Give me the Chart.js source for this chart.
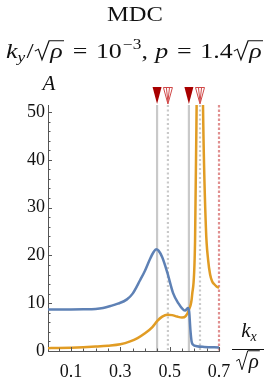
<!DOCTYPE html>
<html>
<head>
<meta charset="utf-8">
<script src="https://cdn.jsdelivr.net/npm/chart.js@4.4.1/dist/chart.umd.min.js"></script>
<style>
  html, body { margin: 0; padding: 0; background: #fff; }
  canvas { display: block; }
</style>
</head>
<body>
<canvas id="mdc" width="271" height="382"></canvas>
<script>
// MDC data
const blueKx = [0.005, 0.1, 0.15, 0.2, 0.23, 0.26, 0.29, 0.327, 0.35, 0.38, 0.4, 0.42, 0.435, 0.445, 0.455, 0.47, 0.49, 0.514, 0.535, 0.554, 0.563, 0.574, 0.579, 0.584, 0.589, 0.595, 0.61, 0.64, 0.7];
const blueA  = [8.7, 8.7, 8.72, 8.8, 9.0, 9.4, 9.9, 10.8, 12.0, 14.8, 16.8, 19.2, 20.7, 21.3, 21.0, 19.6, 16.5, 12.1, 10.0, 8.7, 8.45, 9.0, 8.3, 4.5, 2.0, 1.3, 1.0, 0.85, 0.75];

const orangeKx = [0.005, 0.05, 0.1, 0.15, 0.2, 0.25, 0.3, 0.34, 0.37, 0.4, 0.43, 0.45, 0.47, 0.49, 0.51, 0.53, 0.55, 0.565, 0.578, 0.591, 0.603, 0.61, 0.62, 0.63, 0.635, 0.647, 0.656, 0.664, 0.672, 0.68, 0.69, 0.7];
const orangeA  = [0.6, 0.62, 0.68, 0.78, 0.92, 1.1, 1.4, 2.0, 2.7, 3.7, 5.0, 6.3, 7.2, 7.6, 7.5, 7.2, 7.0, 7.3, 8.6, 11.7, 23, 55, 110, 80, 52, 25.7, 19, 16, 14.6, 14, 13.5, 13.2];

const xTicks = [0.1, 0.3, 0.5, 0.7];
const xMinor = [0.05, 0.15, 0.2, 0.25, 0.35, 0.4, 0.45, 0.55, 0.6, 0.65];
const yTicks = [0, 10, 20, 30, 40, 50];
const yMinor = [2, 4, 6, 8, 12, 14, 16, 18, 22, 24, 26, 28, 32, 34, 36, 38, 42, 44, 46, 48];

// vertical markers
const solidMarks = [0.449, 0.578];
const dottedMarks = [0.493, 0.623];
const redMarks = [0.7];

const SERIF = '"Liberation Serif", "DejaVu Serif", serif';
const AXIS = '#555';

function pts(xs, ys) {
  return xs.map((x, i) => ({ x: x, y: ys[i] }));
}

// little math-text helper: runs of text, sub/superscripts and square roots
function runSeq(ctx, parts, x, y, draw) {
  let cx = x;
  for (const p of parts) {
    if (p.gap) { cx += p.gap; continue; }
    if (p.sqrt) {
      const inner = runSeq(ctx, p.sqrt, 0, 0, false);
      const s = p.size;
      const rw = s * 0.55;
      if (draw) {
        ctx.save();
        ctx.lineWidth = 1;
        ctx.strokeStyle = '#111';
        ctx.beginPath();
        ctx.moveTo(cx, y - s * 0.33);
        ctx.lineTo(cx + rw * 0.25, y - s * 0.42);
        ctx.lineTo(cx + rw * 0.5, y + s * 0.08);
        ctx.lineTo(cx + rw, y - s * 0.82);
        ctx.lineTo(cx + rw + inner + 2, y - s * 0.82);
        ctx.stroke();
        ctx.restore();
      }
      runSeq(ctx, p.sqrt, cx + rw + 1, y, draw);
      cx += rw + inner + 2;
    } else {
      ctx.font = (p.it ? 'italic ' : '') + p.size + 'px ' + SERIF;
      if (draw) ctx.fillText(p.t, cx, y + (p.dy || 0));
      cx += ctx.measureText(p.t).width + (p.sp || 0);
    }
  }
  return cx - x;
}

function drawCentered(ctx, parts, cx, y) {
  const w = runSeq(ctx, parts, 0, 0, false);
  runSeq(ctx, parts, cx - w / 2, y, true);
  return w;
}

// stretch a run so it spans [left, right]
function drawSpan(ctx, parts, left, right, y) {
  const w = runSeq(ctx, parts, 0, 0, false);
  ctx.save();
  ctx.translate(left, 0);
  ctx.scale((right - left) / w, 1);
  runSeq(ctx, parts, 0, y, true);
  ctx.restore();
}

const decorPlugin = {
  id: 'decor',
  beforeDatasetsDraw(chart) {
    const { ctx, chartArea, scales } = chart;
    const xs = scales.x;
    ctx.save();
    ctx.lineWidth = 2.2;
    // solid gray
    ctx.strokeStyle = '#c9c9c9';
    solidMarks.forEach(v => {
      const px = xs.getPixelForValue(v);
      ctx.beginPath(); ctx.moveTo(px, chartArea.top); ctx.lineTo(px, chartArea.bottom); ctx.stroke();
    });
    // dotted gray
    ctx.setLineDash([2, 2.5]);
    dottedMarks.forEach(v => {
      const px = xs.getPixelForValue(v);
      ctx.beginPath(); ctx.moveTo(px, chartArea.top); ctx.lineTo(px, chartArea.bottom); ctx.stroke();
    });
    // red dashed
    ctx.strokeStyle = '#e09090';
    ctx.setLineDash([2.5, 2]);
    redMarks.forEach(v => {
      const px = xs.getPixelForValue(v);
      ctx.beginPath(); ctx.moveTo(px, chartArea.top); ctx.lineTo(px, chartArea.bottom); ctx.stroke();
    });
    ctx.restore();
  },
  afterDraw(chart) {
    const { ctx, chartArea, scales } = chart;
    const xs = scales.x, ys = scales.y;
    ctx.save();

    // inward minor / major ticks
    ctx.strokeStyle = AXIS;
    ctx.lineWidth = 1;
    ctx.beginPath();
    yTicks.forEach(v => { const py = Math.round(ys.getPixelForValue(v)) + 0.5; ctx.moveTo(chartArea.left, py); ctx.lineTo(chartArea.left + 4, py); });
    yMinor.forEach(v => { const py = Math.round(ys.getPixelForValue(v)) + 0.5; ctx.moveTo(chartArea.left, py); ctx.lineTo(chartArea.left + 2.5, py); });
    xTicks.forEach(v => { const px = Math.round(xs.getPixelForValue(v)) + 0.5; ctx.moveTo(px, chartArea.bottom); ctx.lineTo(px, chartArea.bottom - 4); });
    xMinor.forEach(v => { const px = Math.round(xs.getPixelForValue(v)) + 0.5; ctx.moveTo(px, chartArea.bottom); ctx.lineTo(px, chartArea.bottom - 2.5); });
    ctx.stroke();

    // triangles above the marker lines
    const tTop = chartArea.top - 18, tTip = chartArea.top - 1;
    solidMarks.forEach(v => {
      const px = xs.getPixelForValue(v);
      ctx.fillStyle = '#a80000';
      ctx.beginPath(); ctx.moveTo(px - 4.5, tTop); ctx.lineTo(px + 4.5, tTop); ctx.lineTo(px, tTip); ctx.closePath(); ctx.fill();
    });
    dottedMarks.forEach(v => {
      const px = xs.getPixelForValue(v);
      ctx.strokeStyle = '#d04848';
      ctx.lineWidth = 1;
      ctx.beginPath(); ctx.moveTo(px - 4.5, tTop + 0.5); ctx.lineTo(px + 4.5, tTop + 0.5); ctx.lineTo(px, tTip); ctx.closePath(); ctx.stroke();
      ctx.beginPath(); ctx.moveTo(px - 1.5, tTop + 1); ctx.lineTo(px, tTip - 2); ctx.lineTo(px + 1.5, tTop + 1); ctx.stroke();
    });

    // titles
    ctx.fillStyle = '#111';
    ctx.textBaseline = 'alphabetic';
    ctx.textAlign = 'left';
    drawSpan(ctx, [{ t: 'MDC', size: 22 }], 107, 163, 21);
    drawSpan(ctx, [
      { t: 'k', it: true, size: 21 },
      { t: 'y', it: true, size: 14, dy: 4, sp: 1 },
      { t: '/', size: 21, sp: 1 },
      { sqrt: [{ t: 'ρ', it: true, size: 21 }], size: 21 },
      { gap: 7 },
      { t: '=', size: 21 },
      { gap: 7 },
      { t: '10', size: 21, sp: 1 },
      { t: '−3', size: 14, dy: -9 },
      { t: ',', size: 21, sp: 6 },
      { t: 'p', it: true, size: 21 },
      { gap: 7 },
      { t: '=', size: 21 },
      { gap: 7 },
      { t: '1.4', size: 21, sp: 1 },
      { sqrt: [{ t: 'ρ', it: true, size: 21 }], size: 21 }
    ], 6, 263, 58);

    // y-axis title
    drawCentered(ctx, [{ t: 'A', it: true, size: 21 }], 49, 90);

    // x-axis title as a fraction
    drawCentered(ctx, [{ t: 'k', it: true, size: 21 }, { t: 'x', it: true, size: 14, dy: 4 }], 249, 337);
    ctx.strokeStyle = '#111';
    ctx.lineWidth = 1;
    ctx.beginPath(); ctx.moveTo(232, 349.5); ctx.lineTo(264, 349.5); ctx.stroke();
    drawCentered(ctx, [{ sqrt: [{ t: 'ρ', it: true, size: 21 }], size: 21 }], 248, 368);

    ctx.restore();
  }
};

const ctx = document.getElementById('mdc').getContext('2d');
const chart = new Chart(ctx, {
  type: 'line',
  data: {
    datasets: [
      {
        data: pts(blueKx, blueA),
        borderColor: '#5e81b5',
        borderWidth: 2.5,
        pointRadius: 0,
        cubicInterpolationMode: 'monotone',
        fill: false
      },
      {
        data: pts(orangeKx, orangeA),
        borderColor: '#e19c24',
        borderWidth: 2.5,
        pointRadius: 0,
        cubicInterpolationMode: 'monotone',
        fill: false
      }
    ]
  },
  options: {
    responsive: false,
    animation: false,
    devicePixelRatio: 1,
    layout: { padding: { top: 105, right: 52, left: 0, bottom: 0 } },
    plugins: {
      legend: { display: false },
      tooltip: { enabled: false },
      title: { display: false }
    },
    scales: {
      x: {
        type: 'linear',
        min: 0.007,
        max: 0.7,
        grid: { display: false, drawTicks: false },
        border: { display: true, color: AXIS, width: 1 },
        ticks: { color: '#111', font: { family: SERIF, size: 18 }, padding: 10, maxRotation: 0, callback: v => v.toFixed(1) },
        afterBuildTicks: s => { s.ticks = xTicks.map(v => ({ value: v })); },
        afterFit: s => { s.height = 31; }
      },
      y: {
        type: 'linear',
        min: 0,
        max: 51.46,
        grid: { display: false, drawTicks: false },
        border: { display: true, color: AXIS, width: 1 },
        ticks: { color: '#111', font: { family: SERIF, size: 18 }, padding: 3 },
        afterBuildTicks: s => { s.ticks = yTicks.map(v => ({ value: v })); },
        afterFit: s => { s.width = 48; }
      }
    }
  },
  plugins: [decorPlugin]
});
</script>
</body>
</html>
